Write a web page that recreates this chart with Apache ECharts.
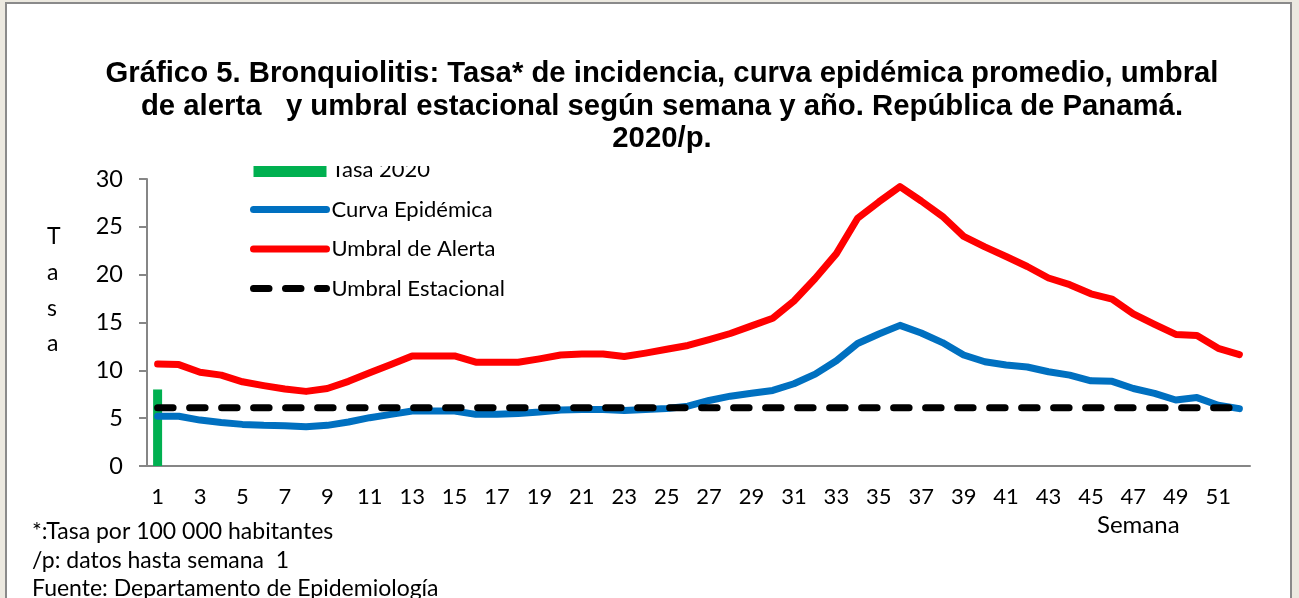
<!DOCTYPE html>
<html>
<head>
<meta charset="utf-8">
<script src="https://cdn.jsdelivr.net/npm/echarts@6/dist/echarts.min.js"></script>
<style>
  html, body { margin: 0; padding: 0; background: #ece9e0; }
  #chart { width: 1299px; height: 598px; }
</style>
</head>
<body>
<div id="chart"></div>
<script>
// semanas epidemiológicas
var semanas = ['1','2','3','4','5','6','7','8','9','10','11','12','13','14','15','16','17','18','19','20',
  '21','22','23','24','25','26','27','28','29','30','31','32','33','34','35','36','37','38','39','40',
  '41','42','43','44','45','46','47','48','49','50','51','52'];

// Tasa 2020 (solo semana 1)
var tasa2020 = [8.0];

// curva epidémica promedio
var curvaEpidemica = [5.2, 5.2, 4.8, 4.55, 4.35, 4.25, 4.2, 4.1, 4.25, 4.6,
  5.05, 5.4, 5.75, 5.75, 5.75, 5.4, 5.4, 5.5, 5.65, 5.85,
  5.9, 5.9, 5.8, 5.9, 6.0, 6.25, 6.85, 7.3, 7.6, 7.9,
  8.6, 9.6, 11.0, 12.8, 13.8, 14.7, 13.9, 12.9, 11.6, 10.9,
  10.55, 10.35, 9.85, 9.5, 8.9, 8.85, 8.1, 7.6, 6.9, 7.15,
  6.35, 6.0];

// umbral de alerta
var umbralAlerta = [10.65, 10.6, 9.8, 9.5, 8.8, 8.4, 8.05, 7.8, 8.1, 8.85,
  9.75, 10.6, 11.5, 11.5, 11.5, 10.85, 10.85, 10.85, 11.2, 11.6,
  11.7, 11.7, 11.45, 11.8, 12.2, 12.6, 13.2, 13.85, 14.65, 15.45,
  17.25, 19.6, 22.2, 25.9, 27.6, 29.2, 27.7, 26.1, 24.0, 22.9,
  21.9, 20.85, 19.65, 18.95, 18.0, 17.45, 15.9, 14.8, 13.75, 13.65,
  12.3, 11.65];

// umbral estacional
var umbralEstacional = [6.1, 6.1, 6.1, 6.1, 6.1, 6.1, 6.1, 6.1, 6.1, 6.1,
  6.1, 6.1, 6.1, 6.1, 6.1, 6.1, 6.1, 6.1, 6.1, 6.1,
  6.1, 6.1, 6.1, 6.1, 6.1, 6.1, 6.1, 6.1, 6.1, 6.1,
  6.1, 6.1, 6.1, 6.1, 6.1, 6.1, 6.1, 6.1, 6.1, 6.1,
  6.1, 6.1, 6.1, 6.1, 6.1, 6.1, 6.1, 6.1, 6.1, 6.1,
  6.1, 6.1];

var yTicks = [0, 5, 10, 15, 20, 25, 30];

var tituloTexto = 'Gráfico 5. Bronquiolitis: Tasa* de incidencia, curva epidémica promedio, umbral\n' +
  'de alerta   y umbral estacional según semana y año. República de Panamá.\n2020/p.';

var fuente = 'Lato';
var chart = echarts.init(document.getElementById('chart'));

chart.setOption({
  backgroundColor: '#ece9e0',
  animation: false,
  title: {
    text: tituloTexto,
    left: 657,
    top: 53,
    textAlign: 'center',
    textStyle: {
      fontFamily: 'Liberation Sans',
      fontWeight: 'bold',
      fontSize: 29.3,
      lineHeight: 32.5,
      color: '#000'
    }
  },
  legend: {
    orient: 'vertical',
    left: 245,
    top: 154,
    itemWidth: 73,
    itemHeight: 14,
    itemGap: 17.5,
    lineStyle: { width: 7, cap: 'round' },
    textStyle: { fontFamily: fuente, fontSize: 22, lineHeight: 20, color: '#000' },
    data: [
      { name: 'Tasa 2020', icon: 'rect' },
      { name: 'Curva Epidémica', itemStyle: { opacity: 0 } },
      { name: 'Umbral de Alerta', itemStyle: { opacity: 0 } },
      { name: 'Umbral Estacional', itemStyle: { opacity: 0 } }
    ]
  },
  grid: { left: 147, right: 49, top: 179, bottom: 132 },
  xAxis: {
    type: 'category',
    data: semanas,
    boundaryGap: true,
    axisLine: { lineStyle: { color: '#868686', width: 2 } },
    axisTick: { interval: 0, length: 8, lineStyle: { color: '#868686', width: 2 } },
    axisLabel: { interval: 1, margin: 20, fontFamily: fuente, fontSize: 22, color: '#000' }
  },
  yAxis: {
    type: 'value',
    min: yTicks[0],
    max: yTicks[yTicks.length - 1],
    interval: 5,
    splitLine: { show: false },
    axisLine: { show: true, lineStyle: { color: '#868686', width: 2 } },
    axisTick: { show: true, length: 8, lineStyle: { color: '#868686', width: 2 } },
    axisLabel: { margin: 24, fontFamily: fuente, fontSize: 23.5, color: '#000' }
  },
  graphic: [
    { // marco del gráfico
      type: 'rect', z: -10,
      shape: { x: 6, y: 3, width: 1285, height: 620 },
      style: { fill: '#fff', stroke: '#8a8a8a', lineWidth: 2 }
    },
    { // corte de la leyenda bajo el título
      type: 'rect', z: 100,
      shape: { x: 240, y: 150, width: 240, height: 16 },
      style: { fill: '#fff' }
    },
    {
      type: 'text', left: 47, top: 219, z: 100,
      style: { text: 'T\na\ns\na', font: '23px Lato', lineHeight: 35.7, fill: '#000', align: 'center' }
    },
    {
      type: 'text', left: 1097, top: 513, z: 100,
      style: { text: 'Semana', font: '24px Lato', fill: '#000' }
    },
    {
      type: 'text', left: 32, top: 517.5, z: 100,
      style: { text: '*:Tasa por 100 000 habitantes\n/p: datos hasta semana  1\nFuente: Departamento de Epidemiología',
        font: '23px Lato', lineHeight: 28.5, fill: '#000' }
    }
  ],
  series: [
    {
      name: 'Tasa 2020',
      type: 'bar',
      barWidth: 9,
      itemStyle: { color: '#00b050' },
      data: tasa2020
    },
    {
      name: 'Curva Epidémica',
      type: 'line',
      symbol: 'none',
      lineStyle: { color: '#0070c0', width: 7, cap: 'round', join: 'round' },
      itemStyle: { color: '#0070c0' },
      data: curvaEpidemica
    },
    {
      name: 'Umbral de Alerta',
      type: 'line',
      symbol: 'none',
      lineStyle: { color: '#ff0000', width: 7, cap: 'round', join: 'round' },
      itemStyle: { color: '#ff0000' },
      data: umbralAlerta
    },
    {
      name: 'Umbral Estacional',
      type: 'line',
      symbol: 'none',
      lineStyle: { color: '#000', width: 7, type: [15.5, 16.5], cap: 'round', join: 'round' },
      itemStyle: { color: '#000' },
      data: umbralEstacional
    }
  ]
});
</script>
</body>
</html>
